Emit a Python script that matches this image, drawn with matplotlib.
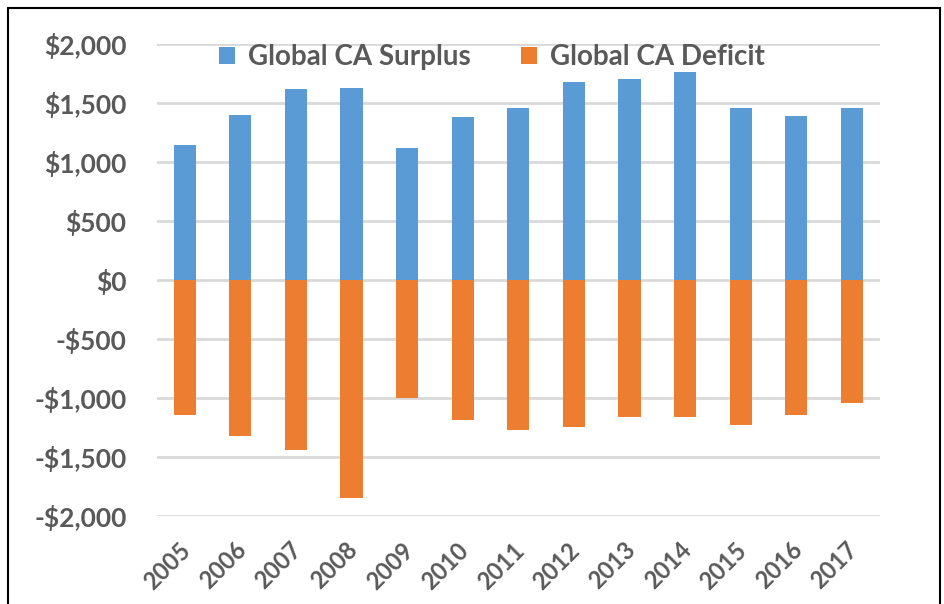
import matplotlib
matplotlib.use("Agg")
import matplotlib.pyplot as plt
from matplotlib.patches import Rectangle
from matplotlib.ticker import FuncFormatter
from matplotlib.transforms import ScaledTranslation

years = ["2005", "2006", "2007", "2008", "2009", "2010", "2011",
         "2012", "2013", "2014", "2015", "2016", "2017"]
surplus = [1140, 1400, 1620, 1630, 1120, 1380, 1460, 1675, 1700, 1760, 1455, 1390, 1455]
deficit = [-1145, -1320, -1440, -1850, -1000, -1190, -1270, -1250, -1160, -1160, -1225, -1140, -1040]

plt.rcParams['font.family'] = ['Lato', 'DejaVu Sans']
text_color = '#595959'

fig = plt.figure(figsize=(9.44, 6.04), dpi=100)
ax = fig.add_axes([0.1663, 0.1457, 0.7655, 0.7815])

x = list(range(len(years)))
ax.bar(x, surplus, width=0.4, color='#5B9BD5', label='Global CA Surplus', zorder=3)
ax.bar(x, deficit, width=0.4, color='#ED7D31', label='Global CA Deficit', zorder=3)

ax.set_ylim(-2000, 2000)
ax.set_xlim(-0.5, len(years) - 0.5)
ax.set_yticks(range(-2000, 2001, 500))

def fmt(v, pos):
    v = int(round(v))
    return ('-$' if v < 0 else '$') + f"{abs(v):,}"

ax.yaxis.set_major_formatter(FuncFormatter(fmt))
ax.grid(axis='y', color='#D9D9D9', linewidth=2, zorder=0)
ax.set_xticks(x)
ax.set_xticklabels(years, rotation=45, ha='right', rotation_mode='anchor')
for s in ax.spines.values():
    s.set_visible(False)
ax.tick_params(axis='both', length=0, labelcolor=text_color)
ax.tick_params(axis='y', pad=22, labelsize=19)
ax.tick_params(axis='x', pad=16, labelsize=17)
off = ScaledTranslation(-6/100, 0, fig.dpi_scale_trans)
for lab in ax.get_xticklabels():
    lab.set_fontweight('bold')
    lab.set_transform(lab.get_transform() + off)
for lab in ax.get_yticklabels():
    lab.set_fontweight('bold')

leg = ax.legend(loc='center', bbox_to_anchor=(0.463, 0.972), ncol=2, frameon=False,
                handlelength=0.6, handleheight=0.6, columnspacing=1.8, handletextpad=0.45,
                prop={'size': 20, 'weight': 'bold'})
for t in leg.get_texts():
    t.set_color(text_color)

fig.patches.append(Rectangle((8/944, -0.01), 932/944, 1 - 8/604 + 0.01, transform=fig.transFigure,
                             fill=False, edgecolor='black', linewidth=1.5))

fig.savefig('out.png', dpi=100)
